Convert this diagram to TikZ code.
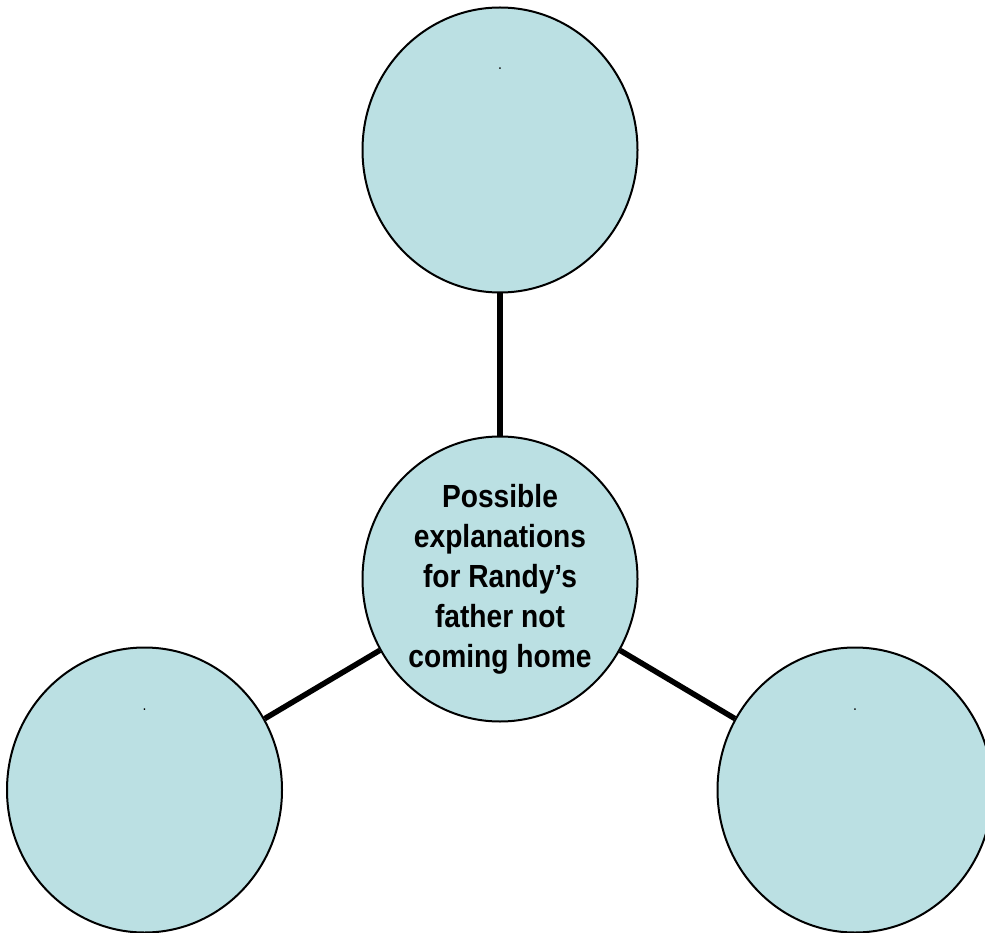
\documentclass[tikz,border=0pt]{standalone}
\usepackage{fontspec}
\setmainfont{Liberation Sans}[FakeStretch=0.88]
\usetikzlibrary{shapes.geometric}
\definecolor{bubble}{RGB}{187,224,227}
\tikzset{
  bubble/.style={ellipse, draw=black, line width=2pt, fill=bubble,
    minimum width=275pt, minimum height=285pt, inner sep=0pt},
  conn/.style={line width=5.5pt, black},
  dotlabel/.style={font=\fontsize{16}{18}\selectfont, inner sep=0pt}
}
\begin{document}
\begin{tikzpicture}[x=1pt,y=-1pt]
  \useasboundingbox (0,0) rectangle (985,933);
  \node[bubble, align=center, font=\bfseries\fontsize{32}{40}\selectfont] (hub) at (500,579)
    {Possible\\explanations\\for Randy’s\\father not\\coming home};
  \node[bubble] (top) at (500,150) {};
  \node[bubble] (left) at (144.5,790) {};
  \node[bubble] (right) at (855,790) {};
  \node[dotlabel] (topdot) at (500,69) {.};
  \node[dotlabel] (leftdot) at (144.5,710) {.};
  \node[dotlabel] (rightdot) at (855,710) {.};
  \draw[conn] (hub) -- (top);
  \draw[conn] (hub) -- (left);
  \draw[conn] (hub) -- (right);
\end{tikzpicture}
\end{document}
